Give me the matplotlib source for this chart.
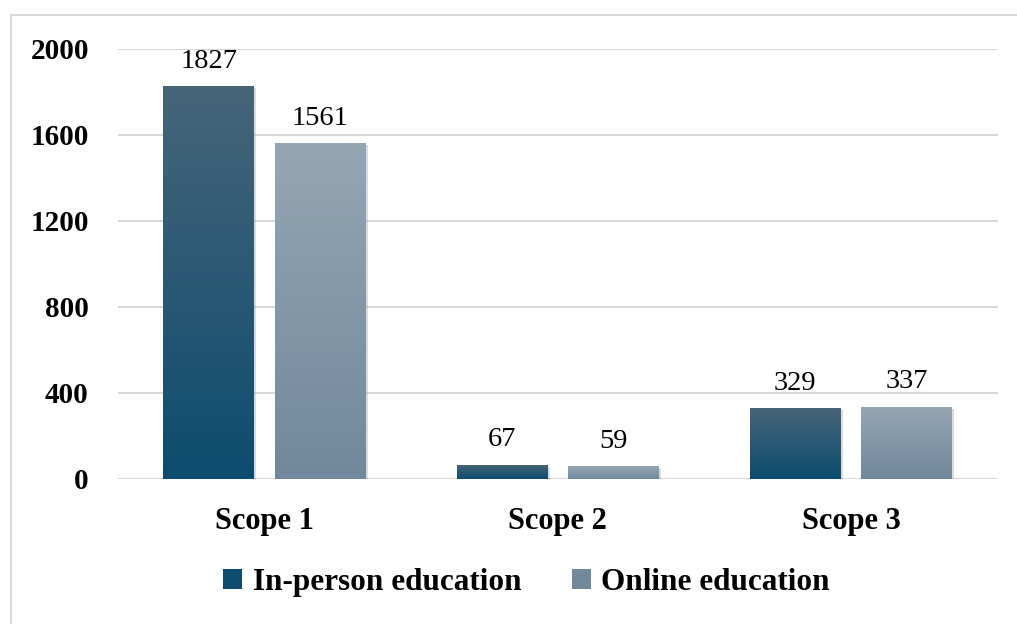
import matplotlib.pyplot as plt
import matplotlib.patheffects as pe
from matplotlib.lines import Line2D
from matplotlib.patches import Patch
import numpy as np

# data
scopes = ["Scope 1", "Scope 2", "Scope 3"]
in_person = [1827, 67, 329]
online = [1561, 59, 337]
series_names = ["In-person education", "Online education"]
yticks = [0, 400, 800, 1200, 1600, 2000]

# gradient colours (top, bottom) for each series
grad_in = ("#476579", "#0d4c6f")
grad_on = ("#95a6b3", "#71889c")

plt.rcParams['font.family'] = ['Liberation Serif', 'DejaVu Serif']

fig = plt.figure(figsize=(10.17, 6.24), dpi=100)
ax = fig.add_axes([0.116, 0.2324, 0.865, 0.6891])

x = np.arange(len(scopes))
width = 0.31
offset = 0.19


def gradient_bars(xpos, values, colors):
    bars = ax.bar(xpos, values, width, color="none", zorder=3)
    c_top = np.array(plt.matplotlib.colors.to_rgb(colors[0]))
    c_bot = np.array(plt.matplotlib.colors.to_rgb(colors[1]))
    t = np.linspace(0, 1, 256)[:, None]
    img = (c_bot * (1 - t) + c_top * t)[:, None, :]
    for b in bars:
        x0, y0 = b.get_x(), b.get_y()
        w, h = b.get_width(), b.get_height()
        # soft shadow behind the bar
        b.set_path_effects([pe.SimplePatchShadow(offset=(1.5, -1.5), shadow_rgbFace="#9a9a9a", alpha=0.35)])
        b.set_facecolor(colors[1])
        im = ax.imshow(img, extent=[x0, x0 + w, y0, y0 + h], origin="lower",
                       aspect="auto", zorder=4)
        im.set_clip_path(b)
    return bars


gradient_bars(x - offset, in_person, grad_in)
gradient_bars(x + offset, online, grad_on)

for xs, vals in ((x - offset, in_person), (x + offset, online)):
    for xi, v in zip(xs, vals):
        ax.annotate(str(v), (xi, v), xytext=(0, 9), textcoords="offset points",
                    ha="center", va="bottom", fontsize=20.5, color="black", zorder=5)

ax.set_xlim(-0.5, 2.5)
ax.set_ylim(0, 2000)
ax.set_yticks(yticks)
ax.set_yticklabels([str(v) for v in yticks], fontsize=21, fontweight="bold")
ax.set_xticks(x)
ax.set_xticklabels(scopes, fontsize=22, fontweight="bold")
ax.tick_params(axis="y", length=0, pad=21)
ax.tick_params(axis="x", length=0, pad=20)

ax.grid(axis="y", color="#d9d9d9", linewidth=1.5, zorder=0)
ax.set_axisbelow(True)
for s in ax.spines.values():
    s.set_visible(False)
ax.axhline(0, color="#d9d9d9", linewidth=2, zorder=2)

handles = [Patch(facecolor=grad_in[1], edgecolor="none"),
           Patch(facecolor=grad_on[1], edgecolor="none")]
fig.legend(handles, series_names, loc="center", bbox_to_anchor=(0.518, 0.066),
           ncol=2, frameon=False, prop={"size": 22.5, "weight": "bold"},
           handlelength=0.6, handleheight=0.6, handletextpad=0.35, columnspacing=1.6)

# outer frame along the left and top edges
fig.add_artist(Line2D([0.0113, 0.0113], [0.0, 0.976], transform=fig.transFigure,
                      color="#d9d9d9", linewidth=1.5))
fig.add_artist(Line2D([0.0113, 1.0], [0.976, 0.976], transform=fig.transFigure,
                      color="#d9d9d9", linewidth=1.5))

fig.savefig("out.png", dpi=100)
plt.close(fig)
